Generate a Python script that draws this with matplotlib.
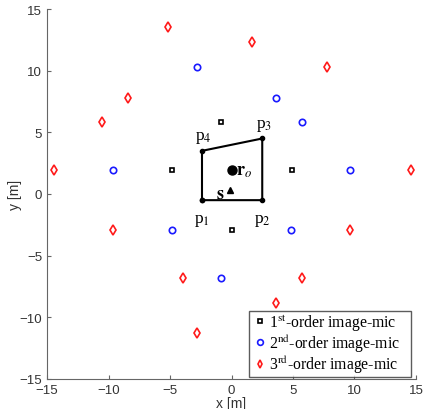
import matplotlib
matplotlib.use('Agg')
import matplotlib.pyplot as plt

# room corners p1..p4, mic r_o and source s
room_x = [-2.4, 2.5, 2.5, -2.4]
room_y = [-0.5, -0.5, 4.5, 3.5]
room_labels = ['p$_1$', 'p$_2$', 'p$_3$', 'p$_4$']
mic = (0.0, 1.95)
src = (-0.1, 0.3)

# image mics by reflection order
first_x = [-4.85, 4.9, -0.85, 0.0]
first_y = [1.95, 1.95, 5.8, -2.92]
second_x = [-2.83, 3.64, 5.73, -9.66, 9.66, -4.81, 4.86, -0.85]
second_y = [10.3, 7.81, 5.81, 1.95, 1.95, -2.92, -2.92, -6.81]
third_x = [-5.16, 1.67, 7.74, -8.44, -10.5, -14.46, 14.6, -9.66, 9.66, -3.97, 5.7, 3.64, -2.83]
third_y = [13.52, 12.3, 10.3, 7.81, 5.81, 1.95, 1.95, -2.92, -2.92, -6.81, -6.81, -8.8, -11.3]

plt.rcParams['mathtext.fontset'] = 'stix'
serif = 'Liberation Serif'
sans = 'Liberation Sans'

fig = plt.figure(figsize=(4.24, 4.10), dpi=100)
ax = fig.add_axes([0.111, 0.0732, 0.870, 0.9024])

ax.plot(first_x, first_y, 's', mfc='none', mec='k', ms=3.3, mew=1.2,
        label='1$^{\\rm st}$-order image-mic')
ax.plot(second_x, second_y, 'o', mfc='none', mec='#1a1aff', ms=4.6, mew=1.2,
        label='2$^{\\rm nd}$-order image-mic')
ax.plot(third_x, third_y, 'd', mfc='none', mec='#ff1a1a', ms=4.6, mew=1.2,
        label='3$^{\\rm rd}$-order image-mic')

ax.plot(room_x + room_x[:1], room_y + room_y[:1], 'k-', lw=1.5, marker='o', ms=3)
ax.plot(*mic, 'ko', ms=6.5)
ax.plot(*src, 'k^', ms=5)

offs = [(0, -14), (0, -14), (1, 10), (1, 10)]
for x, y, lab, (dx, dy) in zip(room_x, room_y, room_labels, offs):
    ax.annotate(lab, (x, y), xytext=(dx, dy), textcoords='offset points',
                ha='center', va='center', fontsize=12.5, family=serif)
ax.annotate('$\\mathbf{r}_{\\mathit{o}}$', mic, xytext=(3, 0), textcoords='offset points',
            ha='left', va='center', fontsize=13)
ax.annotate('$\\mathbf{s}$', src, xytext=(-4, -2), textcoords='offset points',
            ha='right', va='center', fontsize=13)

ax.set_xlim(-15, 15)
ax.set_ylim(-15, 15)
ax.set_xticks(range(-15, 16, 5))
ax.set_yticks(range(-15, 16, 5))
ax.set_xlabel('x [m]', fontsize=10, family=sans, color='#333333', labelpad=0)
ax.set_ylabel('y [m]', fontsize=10, family=sans, color='#333333', labelpad=-2)
ax.tick_params(direction='in', labelsize=9.5, colors='#666666', labelcolor='#333333', length=3)
for lab in ax.get_xticklabels() + ax.get_yticklabels():
    lab.set_family(sans)
for side in ['top', 'right']:
    ax.spines[side].set_visible(False)
for side in ['left', 'bottom']:
    ax.spines[side].set_color('#666666')

leg = ax.legend(loc='lower left', bbox_to_anchor=(0.5474, 0.0062, 0.4382, 0.2), mode='expand',
                prop={'family': serif, 'size': 11.3},
                handletextpad=0.02, handlelength=1.16, borderpad=0.1, labelspacing=0.0,
                borderaxespad=0, fancybox=False, edgecolor='#333333', markerscale=0.9)
leg.get_frame().set_linewidth(1.0)

fig.savefig('out.png', dpi=100)
